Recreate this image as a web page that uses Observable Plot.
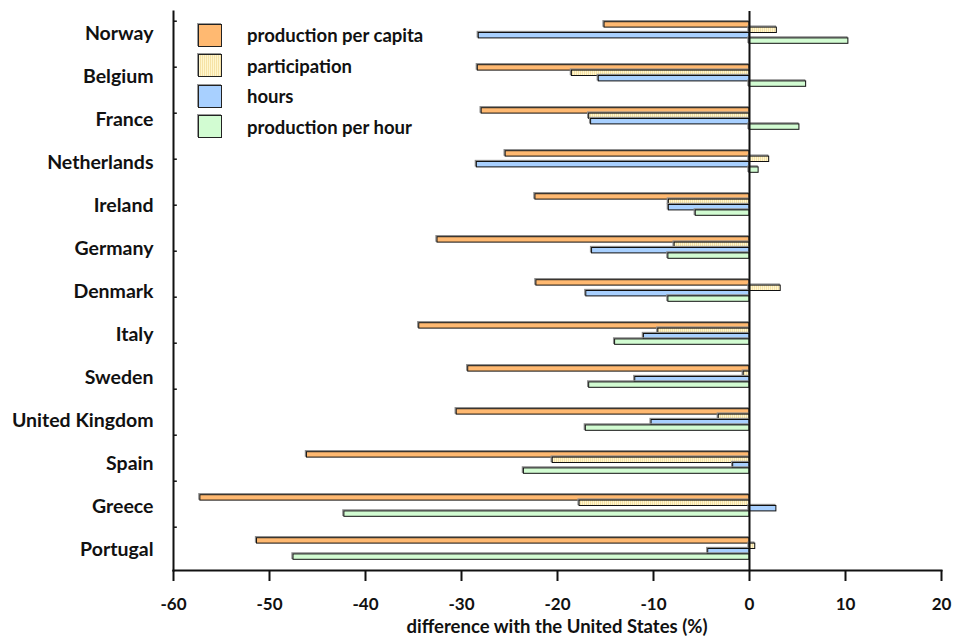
<!DOCTYPE html>
<html><head><meta charset="utf-8">
<script src="https://cdn.jsdelivr.net/npm/d3@7"></script>
<script src="https://cdn.jsdelivr.net/npm/@observablehq/plot@0.6"></script>
<style>
body{margin:0;background:#fff;}
#chart{position:relative;width:954px;height:637px;font-family:Lato,"Open Sans",sans-serif;}
#chart svg{position:absolute;left:0;top:0;}
.legend{position:absolute;left:198px;top:20px;}
.legend .row{display:flex;align-items:center;height:30.5px;}
.sw{width:22px;height:21px;border:1.5px solid #222;box-shadow:-1px -1px 0 #999;margin-right:25px;}
.legend span{font-weight:700;font-size:18.5px;color:#111;}
.xtitle{position:absolute;left:173px;width:768px;top:615px;text-align:center;font-weight:700;font-size:18.5px;color:#111;}
svg [aria-label="x-axis tick"] path{stroke-width:2;}
</style></head><body><div id="chart"></div>
<script>
const countries = ["Norway","Belgium","France","Netherlands","Ireland","Germany","Denmark","Italy","Sweden","United Kingdom","Spain","Greece","Portugal"];
const perCapita     = [-15.1,-28.3,-27.9,-25.4,-22.3,-32.5,-22.2,-34.4,-29.3,-30.5,-46.1,-57.2,-51.3];
const participation = [2.85,-18.5,-16.7,2.05,-8.4,-7.8,3.25,-9.5,-0.6,-3.2,-20.5,-17.7,0.6];
const hours         = [-28.2,-15.7,-16.5,-28.4,-8.4,-16.4,-17.0,-11.0,-11.9,-10.2,-1.7,2.8,-4.3];
const perHour       = [10.3,5.9,5.2,0.95,-5.6,-8.45,-8.45,-14.0,-16.7,-17.05,-23.5,-42.2,-47.5];
const seriesNames = ["production per capita","participation","hours","production per hour"];
const xTicks = [-60,-50,-40,-30,-20,-10,0,10,20];
const xLabel = "difference with the United States (%)";

const colors = ["#ffb971","url(#stripes)","#a8d0ff","#d2fcd2"];
const legendColors = ["#ffb971","repeating-linear-gradient(90deg,#fff6cf 0 1px,#f6e2a6 1px 2px)","#a8d0ff","#d2fcd2"];
const seriesValues = [perCapita, participation, hours, perHour];

const W = 954, H = 637, mTop = 11, mBottom = 67, mLeft = 173, mRight = 13;
const step = (H - mTop - mBottom) / countries.length;
const barH = 5.4;

const marks = [];
seriesValues.forEach((vals, i) => {
  const rows = countries.map((c, j) => ({country: c, value: vals[j]}));
  const insetTop = step / 2 - 2 * barH + barH * i;
  const insetBottom = step - insetTop - barH;
  marks.push(Plot.barX(rows, {x: "value", y: "country", insetTop, insetBottom, fill: "none", stroke: "#8c8c8c", strokeWidth: 1.3, dx: -1, dy: -1}));
  marks.push(Plot.barX(rows, {x: "value", y: "country", insetTop, insetBottom, fill: colors[i], stroke: "#111", strokeWidth: 1}));
});

// left-axis tick marks (the original's 12 divisions drift slightly from the category centres)
const tickMarks = countries.slice(0, 12).map((c, k) =>
  Plot.ruleY([c], {x1: -60, x2: -59.6, dy: -11.8 + 3.0 * k, stroke: "#111", strokeWidth: 1.5}));

const svg = Plot.plot({
  width: W, height: H,
  marginTop: mTop, marginBottom: mBottom, marginLeft: mLeft, marginRight: mRight,
  style: {fontFamily: "Lato, 'Open Sans', sans-serif", color: "#111", background: "transparent"},
  x: {domain: [-60, 20]},
  y: {domain: countries, padding: 0},
  marks: [
    ...marks,
    Plot.ruleX([0], {stroke: "#111", strokeWidth: 2}),
    ...tickMarks,
    Plot.frame({anchor: "left", stroke: "#111", strokeWidth: 2}),
    Plot.frame({anchor: "bottom", stroke: "#111", strokeWidth: 2}),
    Plot.axisY({tickSize: 0, tickPadding: 20, fontSize: 19.5, fontWeight: 700, label: null, dy: 1}),
    Plot.axisX({ticks: xTicks, tickSize: 11, tickPadding: 16, fontSize: 17, fontWeight: 700, tickFormat: d => String(d), label: null})
  ]
});

const defs = document.createElementNS("http://www.w3.org/2000/svg", "defs");
defs.innerHTML = '<pattern id="stripes" width="2" height="4" patternUnits="userSpaceOnUse"><rect width="2" height="4" fill="#fff6cf"/><rect width="1" height="4" fill="#f6e2a6"/></pattern>';
svg.insertBefore(defs, svg.firstChild);

const chart = document.getElementById("chart");
chart.appendChild(svg);

const legend = document.createElement("div");
legend.className = "legend";
seriesNames.forEach((name, i) => {
  const row = document.createElement("div");
  row.className = "row";
  const sw = document.createElement("div");
  sw.className = "sw";
  sw.style.background = legendColors[i];
  const label = document.createElement("span");
  label.textContent = name;
  row.appendChild(sw); row.appendChild(label);
  legend.appendChild(row);
});
chart.appendChild(legend);

const title = document.createElement("div");
title.className = "xtitle";
title.textContent = xLabel;
chart.appendChild(title);
</script>
</body></html>
